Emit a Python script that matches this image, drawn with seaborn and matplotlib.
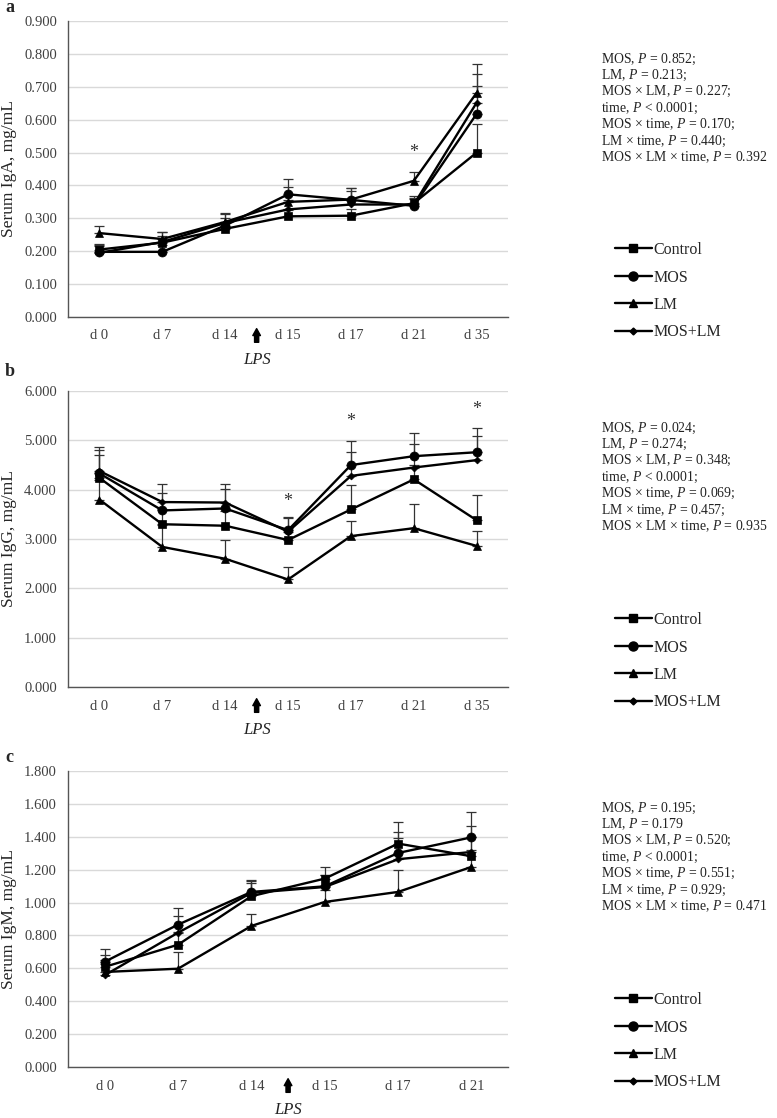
import numpy as np
import pandas as pd
import seaborn as sns
import matplotlib.pyplot as plt
from matplotlib.lines import Line2D
from matplotlib.ticker import FormatStrFormatter

sns.set_style('white')
plt.rcParams['font.family'] = ['Liberation Serif', 'DejaVu Serif']
plt.rcParams['mathtext.fontset'] = 'custom'
plt.rcParams['mathtext.rm'] = 'Liberation Serif'
plt.rcParams['mathtext.it'] = 'Liberation Serif:italic'

# data
days_7 = ['d 0', 'd 7', 'd 14', 'd 15', 'd 17', 'd 21', 'd 35']
days_6 = ['d 0', 'd 7', 'd 14', 'd 15', 'd 17', 'd 21']
groups = ['Control', 'MOS', 'LM', 'MOS+LM']

# IgA
iga_control = [0.205, 0.226, 0.268, 0.306, 0.308, 0.346, 0.500]
iga_mos = [0.198, 0.198, 0.278, 0.373, 0.356, 0.338, 0.618]
iga_lm = [0.255, 0.237, 0.289, 0.350, 0.357, 0.414, 0.682]
iga_moslm = [0.195, 0.228, 0.286, 0.327, 0.342, 0.342, 0.652]
iga_control_se = [0.018, 0.02, 0.02, 0.02, 0.02, 0.022, 0.088]
iga_mos_se = [0.02, 0.02, 0.022, 0.046, 0.035, 0.02, 0.085]
iga_lm_se = [0.022, 0.02, 0.025, 0.046, 0.035, 0.026, 0.087]
iga_moslm_se = [0.02, 0.03, 0.03, 0.03, 0.04, 0.02, 0.087]

# IgG
igg_control = [4.24, 3.30, 3.27, 2.98, 3.60, 4.21, 3.38]
igg_mos = [4.33, 3.58, 3.62, 3.18, 4.50, 4.68, 4.76]
igg_lm = [3.80, 2.84, 2.60, 2.18, 3.06, 3.22, 2.86]
igg_moslm = [4.38, 3.75, 3.74, 3.15, 4.28, 4.45, 4.60]
igg_control_se = [0.47, 0.30, 0.30, 0.25, 0.49, 0.30, 0.51]
igg_mos_se = [0.48, 0.36, 0.40, 0.27, 0.49, 0.48, 0.49]
igg_lm_se = [0.40, 0.45, 0.39, 0.26, 0.30, 0.49, 0.30]
igg_moslm_se = [0.48, 0.36, 0.38, 0.27, 0.48, 0.48, 0.48]

# IgM
igm_control = [0.609, 0.744, 1.039, 1.146, 1.359, 1.282]
igm_mos = [0.640, 0.866, 1.065, 1.099, 1.302, 1.397]
igm_lm = [0.578, 0.598, 0.858, 1.004, 1.065, 1.217]
igm_moslm = [0.558, 0.817, 1.059, 1.095, 1.264, 1.308]
igm_control_se = [0.07, 0.08, 0.08, 0.07, 0.13, 0.12]
igm_mos_se = [0.076, 0.10, 0.075, 0.07, 0.13, 0.155]
igm_lm_se = [0.07, 0.10, 0.075, 0.07, 0.135, 0.10]
igm_moslm_se = [0.07, 0.10, 0.075, 0.07, 0.13, 0.16]

iga_stars = ['d 21']
igg_stars = ['d 15', 'd 17', 'd 35']
iga_star_y = [0.50]
igg_star_y = [3.76, 5.38, 5.63]

iga_p = ['MOS, $\\mathit{P}$ = 0.852;', 'LM, $\\mathit{P}$ = 0.213;',
         'MOS × LM, $\\mathit{P}$ = 0.227;', 'time, $\\mathit{P}$ < 0.0001;',
         'MOS × time, $\\mathit{P}$ = 0.170;', 'LM × time, $\\mathit{P}$ = 0.440;',
         'MOS × LM × time, $\\mathit{P}$ = 0.392']
igg_p = ['MOS, $\\mathit{P}$ = 0.024;', 'LM, $\\mathit{P}$ = 0.274;',
         'MOS × LM, $\\mathit{P}$ = 0.348;', 'time, $\\mathit{P}$ < 0.0001;',
         'MOS × time, $\\mathit{P}$ = 0.069;', 'LM × time, $\\mathit{P}$ = 0.457;',
         'MOS × LM × time, $\\mathit{P}$ = 0.935']
igm_p = ['MOS, $\\mathit{P}$ = 0.195;', 'LM, $\\mathit{P}$ = 0.179',
         'MOS × LM, $\\mathit{P}$ = 0.520;', 'time, $\\mathit{P}$ < 0.0001;',
         'MOS × time, $\\mathit{P}$ = 0.551;', 'LM × time, $\\mathit{P}$ = 0.929;',
         'MOS × LM × time, $\\mathit{P}$ = 0.471']

markers = {'Control': 's', 'MOS': 'o', 'LM': '^', 'MOS+LM': 'D'}
msizes = {'Control': 6, 'MOS': 6.5, 'LM': 5.5, 'MOS+LM': 3.5}


def make_df(days, vals, errs):
    rows = []
    for g, v, e in zip(groups, vals, errs):
        for i, d in enumerate(days):
            rows.append({'day': d, 'pos': i, 'group': g, 'value': v[i], 'se': e[i]})
    return pd.DataFrame(rows)


panels = [
    dict(label='a', ylabel='Serum IgA, mg/mL', days=days_7,
         df=make_df(days_7, [iga_control, iga_mos, iga_lm, iga_moslm],
                    [iga_control_se, iga_mos_se, iga_lm_se, iga_moslm_se]),
         ymax=0.9, step=0.1, stars=iga_stars, star_y=iga_star_y, ptext=iga_p,
         rect=[0.0875, 0.7165, 0.5665, 0.2647], label_y=8, ptop=59, leg_top=242),
    dict(label='b', ylabel='Serum IgG, mg/mL', days=days_7,
         df=make_df(days_7, [igg_control, igg_mos, igg_lm, igg_moslm],
                    [igg_control_se, igg_mos_se, igg_lm_se, igg_moslm_se]),
         ymax=6.0, step=1.0, stars=igg_stars, star_y=igg_star_y, ptext=igg_p,
         rect=[0.0875, 0.3855, 0.5665, 0.2647], label_y=371, ptop=428, leg_top=612),
    dict(label='c', ylabel='Serum IgM, mg/mL', days=days_6,
         df=make_df(days_6, [igm_control, igm_mos, igm_lm, igm_moslm],
                    [igm_control_se, igm_mos_se, igm_lm_se, igm_moslm_se]),
         ymax=1.8, step=0.2, stars=[], star_y=[], ptext=igm_p,
         rect=[0.0875, 0.0456, 0.5665, 0.2647], label_y=758, ptop=808, leg_top=992),
]

H = 1118
fig = plt.figure(figsize=(7.77, 11.18), dpi=100)

for p in panels:
    ax = fig.add_axes(p['rect'])
    df = p['df']
    for g in groups:
        sub = df[df['group'] == g]
        ax.errorbar(sub['pos'], sub['value'], yerr=[np.zeros(len(sub)), sub['se']],
                    fmt='none', ecolor='#333333', elinewidth=0.9, capsize=3.5,
                    capthick=0.9, zorder=2)
        sns.lineplot(data=sub, x='pos', y='value', color='black', linewidth=1.7,
                     marker=markers[g], markersize=msizes[g], markeredgecolor='black',
                     markeredgewidth=0.5, ax=ax, zorder=3)
    n = len(p['days'])
    ax.set_xlim(-0.5, n - 0.5)
    ax.set_ylim(0, p['ymax'])
    ax.set_yticks(np.arange(0, p['ymax'] + p['step'] / 2, p['step']))
    ax.yaxis.set_major_formatter(FormatStrFormatter('%.3f'))
    ax.set_xticks(range(n))
    ax.set_xticklabels(p['days'])
    ax.tick_params(axis='y', length=0, labelsize=10.5, pad=8, colors='#404040')
    ax.tick_params(axis='x', length=0, labelsize=10.5, pad=9, colors='#404040')
    ax.set_xlabel('')
    ax.set_ylabel(p['ylabel'], fontsize=12.5, labelpad=5)
    ax.yaxis.grid(True, color='#d9d9d9', linewidth=1)
    ax.set_axisbelow(True)
    for s in ['top', 'right']:
        ax.spines[s].set_visible(False)
    for s in ['left', 'bottom']:
        ax.spines[s].set_color('#555555')
        ax.spines[s].set_linewidth(1)

    # LPS arrow between d 14 and d 15
    tr = ax.get_xaxis_transform()
    ax.annotate('', xy=(2.5, -0.03), xytext=(2.5, -0.095), xycoords=tr, textcoords=tr,
                arrowprops=dict(arrowstyle='simple,head_width=0.55,head_length=0.5,tail_width=0.3',
                                color='black'), annotation_clip=False)
    ax.text(2.5, -0.145, 'LPS', transform=tr, ha='center', va='center',
            fontsize=12, style='italic', color='#222222')

    for d, y in zip(p['stars'], p['star_y']):
        ax.text(p['days'].index(d), y, '*', ha='center', va='center',
                fontsize=13, color='#333333')

    fig.text(5 / 777, 1 - p['label_y'] / H, p['label'], fontsize=13,
             fontweight='bold', ha='left', va='center')

    for i, line in enumerate(p['ptext']):
        fig.text(601 / 777, 1 - (p['ptop'] + i * 16.4) / H, line, fontsize=9.9,
                 ha='left', va='center', color='#222222')

    handles = [Line2D([], [], color='black', linewidth=1.7, marker=markers[g],
                      markersize=msizes[g], markeredgecolor='black') for g in groups]
    fig.legend(handles, groups, loc='upper left',
               bbox_to_anchor=(615 / 777, 1 - p['leg_top'] / H),
               frameon=False, fontsize=11.5, handlelength=2.3, handletextpad=0.1,
               labelspacing=0.72, borderpad=0, borderaxespad=0)

fig.savefig('out.png', dpi=100)
